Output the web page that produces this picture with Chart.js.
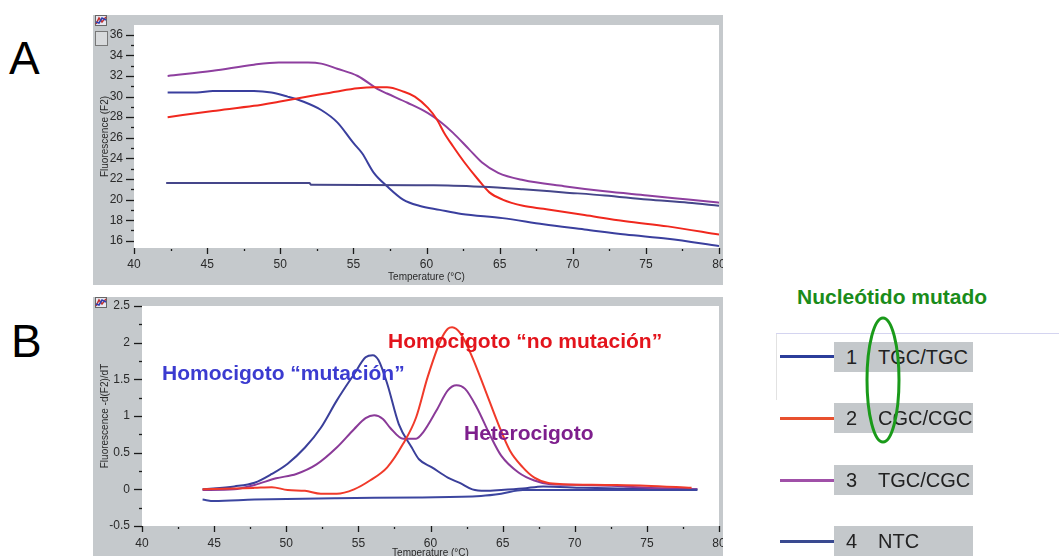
<!DOCTYPE html>
<html>
<head>
<meta charset="utf-8">
<script src="https://cdn.jsdelivr.net/npm/chart.js@4.4.1/dist/chart.umd.min.js"></script>
<style>
  html, body { margin: 0; padding: 0; background: #fff; overflow: hidden; width: 1059px; height: 556px; }
  body { position: relative; font-family: "Liberation Sans", Arial, sans-serif; }
  .panel { position: absolute; background: #c5c9cc; }
  canvas { display: block; }
  .big { position: absolute; font-size: 46px; color: #000; line-height: 1; }
  .note { position: absolute; font-weight: bold; font-size: 21px; line-height: 1; white-space: nowrap; }
  .lg-line { position: absolute; left: 780px; width: 54px; height: 3px; }
  .lg-box { position: absolute; left: 834px; width: 139px; height: 30px; background: #c4c8cb; overflow: hidden;
            font-size: 20px; color: #222; line-height: 31px; white-space: pre; }
  .lg-box span { position: absolute; top: 0; }
  .icon { position: absolute; width: 11px; height: 10px; background: #fff; border: 1px solid #777; }
</style>
</head>
<body>
<div class="big" style="left:9px; top:35px;">A</div>
<div class="big" style="left:11px; top:318px;">B</div>

<div class="panel" style="left:93px; top:15px; width:630px; height:270px;">
  <canvas id="chartA" width="630" height="270"></canvas>
</div>
<div class="panel" style="left:93px; top:297px; width:630px; height:270px;">
  <canvas id="chartB" width="630" height="270"></canvas>
</div>

<svg style="position:absolute; left:95px; top:15px;" width="12" height="11">
  <rect x="0.5" y="0.5" width="11" height="10" fill="#e8e8f0" stroke="#666"/>
  <polyline points="1,9 4,3 7,7 11,2" fill="none" stroke="#c03030" stroke-width="1.5"/>
  <polyline points="1,7 4,8 7,3 11,5" fill="none" stroke="#3040b0" stroke-width="1.5"/>
</svg>
<div class="icon" style="left:95px; top:31px; height:13px; background:#d8dadc;"></div>
<svg style="position:absolute; left:95px; top:297px;" width="12" height="11">
  <rect x="0.5" y="0.5" width="11" height="10" fill="#e8e8f0" stroke="#666"/>
  <polyline points="1,9 4,3 7,7 11,2" fill="none" stroke="#c03030" stroke-width="1.5"/>
  <polyline points="1,7 4,8 7,3 11,5" fill="none" stroke="#3040b0" stroke-width="1.5"/>
</svg>

<div class="note" style="left:388px; top:330px; color:#e3141c;">Homocigoto “no mutación”</div>
<div class="note" style="left:162px; top:362px; color:#3b3bd0;">Homocigoto “mutación”</div>
<div class="note" style="left:464px; top:422px; color:#7e1f8d;">Heterocigoto</div>

<div class="note" style="left:797px; top:286px; color:#1a8c1a;">Nucleótido mutado</div>
<div style="position:absolute; left:776px; top:333px; width:283px; height:1px; background:#d4d4f0;"></div>
<div style="position:absolute; left:776px; top:334px; width:1px; height:66px; background:#e2e2e2;"></div>

<div class="lg-line" style="top:355px; background:#2b3d9a;"></div>
<div class="lg-box" style="top:342px;"><span style="left:12px;">1</span><span style="left:44px;">TGC/TGC -</span></div>
<div class="lg-line" style="top:417px; background:#e8502e;"></div>
<div class="lg-box" style="top:403px;"><span style="left:12px;">2</span><span style="left:44px;">CGC/CGC -</span></div>
<div class="lg-line" style="top:479px; background:#a050a8;"></div>
<div class="lg-box" style="top:465px;"><span style="left:12px;">3</span><span style="left:44px;">TGC/CGC -</span></div>
<div class="lg-line" style="top:540px; background:#3a4a90;"></div>
<div class="lg-box" style="top:526px;"><span style="left:12px;">4</span><span style="left:44px;">NTC</span></div>

<svg style="position:absolute; left:0; top:0;" width="1059" height="556">
  <ellipse cx="883" cy="380" rx="16" ry="62" fill="none" stroke="#1a9a1a" stroke-width="3"/>
</svg>

<script>
// --- Panel A: curvas de fusión (fluorescencia) ---
const tempA_mut = [42.3, 44.3, 45.4, 48.2, 49.4, 50.5, 51.6, 52.8, 53.9, 55.0, 55.6, 56.4, 57.3, 58.4, 59.5, 60.9, 62.4, 65.2, 68.0, 70.8, 73.6, 76.5, 80];
const fluorA_mut = [30.4, 30.4, 30.55, 30.55, 30.4, 30.0, 29.5, 28.7, 27.5, 25.5, 24.5, 22.6, 21.3, 20.0, 19.4, 19.0, 18.6, 18.2, 17.6, 17.1, 16.6, 16.2, 15.5];

const tempA_wt = [42.3, 45.4, 48.2, 49.9, 51.9, 53.9, 55.3, 56.4, 57.3, 58.4, 59.2, 60.1, 60.7, 61.2, 61.8, 62.6, 63.5, 64.3, 65.2, 66.6, 68.0, 70.8, 73.6, 76.5, 80];
const fluorA_wt = [28.0, 28.6, 29.1, 29.5, 30.0, 30.5, 30.8, 30.9, 30.9, 30.5, 30.0, 28.9, 27.8, 26.5, 25.2, 23.6, 22.0, 20.7, 20.0, 19.4, 19.1, 18.5, 17.9, 17.4, 16.6];

const tempA_het = [42.3, 45.4, 48.2, 49.9, 51.9, 52.8, 53.9, 55.3, 56.7, 57.3, 58.7, 60.1, 60.9, 61.8, 62.9, 63.8, 64.9, 66.6, 69.4, 72.2, 75.1, 77.9, 80];
const fluorA_het = [32.0, 32.5, 33.1, 33.3, 33.3, 33.2, 32.7, 32.0, 30.7, 30.3, 29.4, 28.4, 27.6, 26.5, 24.9, 23.6, 22.6, 21.9, 21.3, 20.8, 20.4, 20.0, 19.7];

const tempA_ntc = [42.2, 52.0, 52.1, 60.5, 63.8, 66.6, 69.4, 72.2, 75.1, 77.9, 80];
const fluorA_ntc = [21.6, 21.6, 21.45, 21.4, 21.25, 21.0, 20.7, 20.4, 20.0, 19.7, 19.4];

// --- Panel B: derivada -d(F2)/dT ---
const tempB_mut = [44.2, 46.4, 47.8, 49.0, 50.1, 51.3, 52.4, 53.5, 54.7, 55.5, 56.0, 56.4, 57.0, 57.8, 58.7, 59.2, 60.1, 61.2, 62.1, 62.9, 63.8, 64.9, 66.4, 67.8, 70.6, 73.5, 76.3, 78.5];
const derivB_mut = [0.0, 0.04, 0.09, 0.21, 0.35, 0.57, 0.84, 1.21, 1.57, 1.80, 1.83, 1.76, 1.44, 0.89, 0.57, 0.41, 0.30, 0.16, 0.08, 0.0, -0.02, -0.01, 0.01, 0.04, 0.02, 0.01, 0.01, 0.0];

const tempB_het = [44.2, 46.4, 47.8, 49.3, 50.7, 52.1, 53.5, 54.7, 55.5, 56.1, 56.7, 57.2, 58.1, 59.0, 59.5, 60.4, 61.2, 61.8, 62.4, 63.2, 64.1, 64.9, 66.1, 67.2, 68.3, 70.6, 73.5, 76.3, 78.5];
const derivB_het = [-0.01, 0.0, 0.06, 0.15, 0.21, 0.34, 0.57, 0.82, 0.97, 1.01, 0.96, 0.84, 0.69, 0.69, 0.78, 1.07, 1.35, 1.42, 1.37, 1.12, 0.75, 0.46, 0.23, 0.12, 0.07, 0.06, 0.04, 0.01, 0.0];

const tempB_wt = [44.2, 46.4, 47.8, 49.0, 50.1, 51.3, 52.4, 53.5, 54.7, 55.8, 57.0, 58.1, 59.0, 59.8, 60.7, 61.2, 61.5, 62.1, 62.9, 63.8, 64.7, 65.5, 66.4, 67.2, 68.1, 69.2, 72.1, 74.9, 78.1];
const derivB_wt = [0.0, 0.01, 0.02, 0.03, -0.01, -0.02, -0.06, -0.06, 0.0, 0.12, 0.30, 0.62, 0.98, 1.53, 2.03, 2.19, 2.21, 2.12, 1.80, 1.35, 0.89, 0.53, 0.30, 0.16, 0.09, 0.07, 0.06, 0.05, 0.02];

const tempB_ntc = [44.2, 45.0, 47.8, 53.5, 59.2, 63.5, 64.9, 66.4, 67.8, 70.6, 73.5, 78.5];
const derivB_ntc = [-0.14, -0.16, -0.14, -0.12, -0.11, -0.09, -0.06, -0.01, -0.01, -0.01, -0.01, -0.01];

// ticks
const xMajor = [40, 45, 50, 55, 60, 65, 70, 75, 80];
const xMinor = [42.5, 47.5, 52.5, 57.5, 62.5, 67.5, 72.5, 77.5];
const yMajorA = [16, 18, 20, 22, 24, 26, 28, 30, 32, 34, 36];
const yMinorA = [17, 19, 21, 23, 25, 27, 29, 31, 33, 35];
const yMajorB = [-0.5, 0, 0.5, 1, 1.5, 2, 2.5];
const yMinorB = [-0.25, 0.25, 0.75, 1.25, 1.75, 2.25];

const pts = (xs, ys) => xs.map((x, i) => ({ x: x, y: ys[i] }));

Chart.defaults.font.family = '"Liberation Sans", Arial, sans-serif';
Chart.defaults.font.size = 12;
Chart.defaults.color = '#2a2a2a';

// fondo blanco del área de trazado
const plotBg = {
    id: 'plotBg',
    beforeDraw(chart) {
        const a = chart.chartArea;
        chart.ctx.save();
        chart.ctx.fillStyle = '#ffffff';
        chart.ctx.fillRect(a.left, a.top, a.right - a.left, a.bottom - a.top);
        chart.ctx.restore();
    }
};

// marcas de ejes mayores y menores
function makeTickMarks(yMajor, yMinor) {
    return {
        id: 'tickMarks',
        afterDraw(chart) {
            const ctx = chart.ctx;
            const xs = chart.scales.x, ys = chart.scales.y;
            const a = chart.chartArea;
            ctx.save();
            ctx.strokeStyle = '#1a1a1a';
            ctx.lineWidth = 1.3;
            const seg = (x1, y1, x2, y2) => { ctx.beginPath(); ctx.moveTo(x1, y1); ctx.lineTo(x2, y2); ctx.stroke(); };
            xMajor.forEach(v => { const p = Math.round(xs.getPixelForValue(v)) + 0.5; seg(p, a.bottom, p, a.bottom + 6); });
            xMinor.forEach(v => { const p = Math.round(xs.getPixelForValue(v)) + 0.5; seg(p, a.bottom + 1, p, a.bottom + 3); });
            yMajor.forEach(v => { const p = Math.round(ys.getPixelForValue(v)) + 0.5; seg(a.left - 8, p, a.left, p); });
            yMinor.forEach(v => { const p = Math.round(ys.getPixelForValue(v)) + 0.5; seg(a.left - 3, p, a.left, p); });
            ctx.restore();
        }
    };
}

function lineSet(data, color) {
    return {
        data: data,
        borderColor: color,
        borderWidth: 2,
        pointRadius: 0,
        fill: false,
        cubicInterpolationMode: 'monotone',
    };
}

function makeOptions(cfg) {
    return {
        responsive: false,
        animation: false,
        layout: { padding: { top: cfg.top, right: 4, left: 0, bottom: 0 } },
        plugins: {
            legend: { display: false },
            tooltip: { enabled: false },
        },
        scales: {
            x: {
                type: 'linear',
                min: 40,
                max: 80,
                grid: { display: false },
                border: { display: false },
                ticks: { padding: cfg.xPad, autoSkip: false, maxRotation: 0 },
                afterBuildTicks: s => { s.ticks = xMajor.map(v => ({ value: v })); },
                afterFit: s => { s.height = cfg.xHeight; s.paddingLeft = 0; s.paddingRight = 0; },
                title: { display: true, text: 'Temperature (°C)', font: { size: 10 }, padding: { top: 0, bottom: cfg.xTitlePad } },
            },
            y: {
                min: cfg.yMin,
                max: cfg.yMax,
                grid: { display: false },
                border: { display: false },
                ticks: { padding: cfg.yPad, autoSkip: false, callback: v => String(v) },
                afterBuildTicks: s => { s.ticks = cfg.yMajor.map(v => ({ value: v })); },
                afterFit: s => { s.width = cfg.yWidth; s.paddingTop = 0; s.paddingBottom = 0; },
                title: { display: true, text: cfg.yTitle, font: { size: 10 }, padding: { top: 6, bottom: 0 } },
            },
        },
    };
}

new Chart(document.getElementById('chartA'), {
    type: 'line',
    data: {
        datasets: [
            lineSet(pts(tempA_ntc, fluorA_ntc), '#45468a'),
            lineSet(pts(tempA_wt, fluorA_wt), '#f0281e'),
            lineSet(pts(tempA_het, fluorA_het), '#8e3f9f'),
            lineSet(pts(tempA_mut, fluorA_mut), '#3a3f9e'),
        ],
    },
    options: makeOptions({
        top: 10, yMin: 15.3, yMax: 36.95, yMajor: yMajorA,
        yWidth: 41, yPad: 3, xHeight: 37, xPad: 1, xTitlePad: 2, yTitle: 'Fluorescence (F2)',
    }),
    plugins: [plotBg, makeTickMarks(yMajorA, yMinorA)],
});

new Chart(document.getElementById('chartB'), {
    type: 'line',
    data: {
        datasets: [
            lineSet(pts(tempB_ntc, derivB_ntc), '#3c46a0'),
            lineSet(pts(tempB_wt, derivB_wt), '#f03a2a'),
            lineSet(pts(tempB_het, derivB_het), '#8a3a98'),
            lineSet(pts(tempB_mut, derivB_mut), '#3a3f9a'),
        ],
    },
    options: makeOptions({
        top: 9, yMin: -0.5, yMax: 2.5, yMajor: yMajorB,
        yWidth: 49, yPad: 4, xHeight: 41, xPad: 2, xTitlePad: 8, yTitle: 'Fluorescence -d(F2)/dT',
    }),
    plugins: [plotBg, makeTickMarks(yMajorB, yMinorB)],
});
</script>
</body>
</html>
